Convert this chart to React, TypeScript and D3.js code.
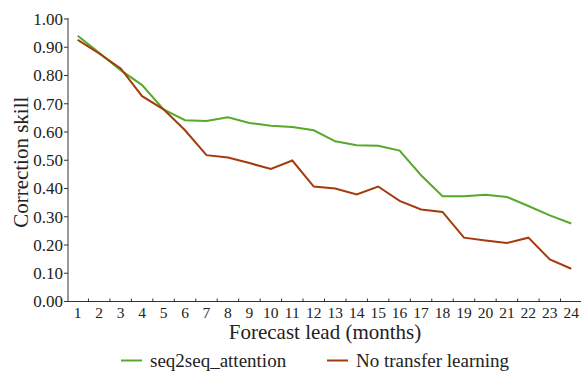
import React from "react";
import * as d3 from "d3";

// forecast lead months
const leads = d3.range(1, 25);
const seq2seqAttention = [
  0.941, 0.88, 0.819, 0.766, 0.68, 0.642, 0.639, 0.652, 0.632, 0.622, 0.618, 0.606,
  0.567, 0.553, 0.551, 0.534, 0.447, 0.373, 0.373, 0.378, 0.37, 0.338, 0.305, 0.276,
];
const noTransfer = [
  0.926, 0.878, 0.825, 0.727, 0.68, 0.606, 0.518, 0.51, 0.49, 0.469, 0.499, 0.407,
  0.4, 0.379, 0.407, 0.356, 0.326, 0.317, 0.226, 0.216, 0.207, 0.226, 0.149, 0.116,
];
const yTicks = d3.range(0, 11).map((i) => i / 10);

const seriesNames = ["seq2seq_attention", "No transfer learning"];
const colors = ["#58a82b", "#a33b0c"];

const W = 581;
const H = 375;
const font = '"Liberation Serif", "Times New Roman", "DejaVu Serif", serif';

export default function App() {
  const x = d3.scaleBand<number>().domain(leads).range([67, 582]).padding(0);
  const y = d3.scaleLinear().domain([0, 1]).range([301.5, 19]);
  const cx = (d: number) => (x(d) as number) + x.bandwidth() / 2;

  const line = d3
    .line<number>()
    .x((_, i) => cx(leads[i]))
    .y((v) => y(v));

  const all = [seq2seqAttention, noTransfer];

  return (
    <svg
      width={W}
      height={H}
      style={{ position: "absolute", left: 0, top: 0, background: "#fff", fontFamily: font }}
    >
      {/* y axis */}
      <line x1={68} x2={68} y1={y(1) - 1} y2={y(0)} stroke="#333" strokeWidth={1} />
      {yTicks.map((t) => (
        <g key={t}>
          <line x1={64} x2={68} y1={y(t)} y2={y(t)} stroke="#333" />
          <text x={63} y={y(t)} dy="0.34em" textAnchor="end" fontSize={17} fill="#222">
            {t.toFixed(2)}
          </text>
        </g>
      ))}
      <text
        transform={`translate(21,${(y(0) + y(1)) / 2 + 2}) rotate(-90)`}
        textAnchor="middle"
        dy="0.35em"
        fontSize={21}
        fill="#222"
      >
        Correction skill
      </text>

      {/* x axis */}
      <line x1={68} x2={W} y1={y(0)} y2={y(0)} stroke="#333" />
      {leads.map((d) => (
        <g key={d}>
          <line
            x1={(x(d) as number) + x.bandwidth()}
            x2={(x(d) as number) + x.bandwidth()}
            y1={y(0)}
            y2={y(0) - 3}
            stroke="#333"
          />
          <text x={cx(d)} y={318} textAnchor="middle" fontSize={15.5} fill="#222">
            {d}
          </text>
        </g>
      ))}
      <text x={325} y={339} textAnchor="middle" fontSize={21} fill="#222">
        Forecast lead (months)
      </text>

      {/* series */}
      {all.map((s, i) => (
        <path key={i} d={line(s) || ""} fill="none" stroke={colors[i]} strokeWidth={2} />
      ))}

      {/* legend */}
      {seriesNames.map((n, i) => {
        const lx = i === 0 ? 121 : 327;
        return (
          <g key={n}>
            <line x1={lx} x2={lx + 21} y1={360.5} y2={360.5} stroke={colors[i]} strokeWidth={2} />
            <text x={lx + 29} y={360.5} dy="0.32em" fontSize={19} fill="#222">
              {n}
            </text>
          </g>
        );
      })}
    </svg>
  );
}
